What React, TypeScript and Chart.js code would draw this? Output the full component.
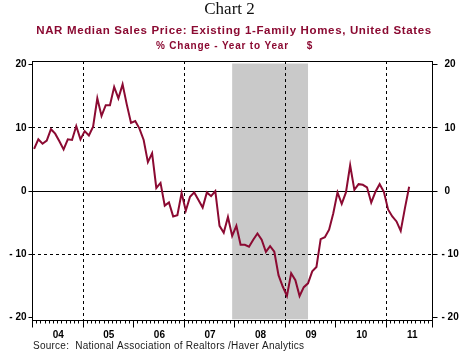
import React, { useEffect, useRef } from "react";
import { Chart, registerables } from "chart.js";

Chart.register(...registerables);

// ---- data ----
const startYear = 2004; // first monthly observation: Jan 2004
const priceChange = [
  6.6, 8.1, 7.4, 7.9, 9.7, 9.0, 7.8, 6.5, 8.1, 8.0, 10.2, 8.1,
  9.4, 8.7, 10.1, 14.6, 11.8, 13.5, 13.5, 16.4, 14.6, 16.8, 13.6, 10.7,
  11.0, 9.8, 8.0, 4.5, 5.9, 0.4, 1.2, -2.4, -1.9, -4.1, -3.9, -0.4,
  -3.2, -1.0, -0.3, -1.5, -2.7, -0.3, -0.9, -0.1, -5.6, -6.7, -4.2, -7.2,
  -5.6, -8.6, -8.6, -8.9, -7.8, -6.8, -7.8, -9.7, -8.8, -9.7, -13.4, -15.2,
  -16.7, -13.1, -14.2, -16.7, -15.3, -14.7, -12.8, -12.1, -7.7, -7.4, -6.2, -3.6,
  -0.3, -2.1, -0.3, 4.0, 0.1, 1.0, 0.9, 0.5, -1.9, -0.2, 1.0, -0.2,
  -3.0, -4.1, -4.9, -6.4, -2.8, 0.6,
];
const yearLabels = ["04", "05", "06", "07", "08", "09", "10", "11"];
const yTickValues = [20, 10, 0, -10, -20];
const yTickLabels = ["20", "10", "0", "- 10", "- 20"];
const dashedYears = [2005, 2007, 2009, 2011];
const recession = [2007 + 11.5 / 12, 2009 + 5.5 / 12]; // Dec 2007 - Jun 2009

const chartLabel = "Chart 2";
const titleText = "NAR Median Sales Price: Existing 1-Family Homes, United States";
const subtitleText = "% Change - Year to Year     $";
const sourceText = "Source:  National Association of Realtors /Haver Analytics";

const X_MIN = 2004;
const X_MAX = 2011.93;
const Y_MIN = -20.5;
const Y_MAX = 20.5;
const LINE_COLOR = "#8B0A32";

const points = priceChange.map((v, i) => ({ x: startYear + (i + 0.5) / 12, y: v }));

const deco = {
  id: "deco",
  beforeDatasetsDraw(chart: any) {
    const { ctx, chartArea: a, scales } = chart;
    const x = scales.x;
    const y = scales.y;
    ctx.save();
    // recession shading
    const x0 = x.getPixelForValue(recession[0]);
    const x1 = x.getPixelForValue(recession[1]);
    const yt = y.getPixelForValue(20.1);
    const yb = y.getPixelForValue(-20.4);
    ctx.fillStyle = "#c9c9c9";
    ctx.fillRect(x0, yt, x1 - x0, yb - yt);

    const seg = (ax: number, ay: number, bx: number, by: number) => {
      ctx.beginPath();
      ctx.moveTo(ax, ay);
      ctx.lineTo(bx, by);
      ctx.stroke();
    };
    ctx.strokeStyle = "#000";
    ctx.lineWidth = 1;
    ctx.setLineDash([3, 3]);
    for (const v of [10, -10]) {
      const py = Math.round(y.getPixelForValue(v)) + 0.5;
      seg(a.left, py, a.right, py);
    }
    for (const yr of dashedYears) {
      const px = Math.round(x.getPixelForValue(yr)) + 0.5;
      seg(px, a.top, px, a.bottom);
    }
    ctx.setLineDash([]);
    const pz = Math.round(y.getPixelForValue(0)) + 0.5;
    seg(a.left, pz, a.right, pz);
    ctx.restore();
  },
  afterDatasetsDraw(chart: any) {
    const { ctx, chartArea: a, scales } = chart;
    const x = scales.x;
    const y = scales.y;
    ctx.save();
    ctx.strokeStyle = "#000";
    ctx.lineWidth = 1;
    const L = Math.round(a.left) + 0.5;
    const R = Math.round(a.right) - 0.5;
    const T = Math.round(a.top) + 0.5;
    const B = Math.round(a.bottom) + 0.5;
    ctx.strokeRect(L, T, R - L, B - T);

    // y ticks (outward, both sides)
    ctx.beginPath();
    yTickValues.forEach((v) => {
      const py = Math.round(y.getPixelForValue(v)) + 0.5;
      ctx.moveTo(L - 4, py);
      ctx.lineTo(L, py);
      ctx.moveTo(R, py);
      ctx.lineTo(R + 5, py);
    });
    // x ticks: monthly minor, yearly major
    for (let m = 0; m <= 96; m++) {
      const v = X_MIN + m / 12;
      if (v > X_MAX + 1e-6) break;
      const px = Math.round(x.getPixelForValue(v)) + 0.5;
      const len = m % 12 === 0 ? 7 : 3;
      ctx.moveTo(px, B);
      ctx.lineTo(px, B + len);
    }
    ctx.moveTo(R, B);
    ctx.lineTo(R, B + 7);
    ctx.stroke();

    // y labels
    ctx.fillStyle = "#000";
    ctx.font = "bold 10px Arial, 'Liberation Sans', sans-serif";
    ctx.textBaseline = "middle";
    yTickValues.forEach((v, i) => {
      const py = y.getPixelForValue(v);
      ctx.textAlign = "right";
      ctx.fillText(yTickLabels[i], L - 6, py + 0.5);
      ctx.textAlign = "left";
      ctx.fillText(yTickLabels[i], R + (v < 0 ? 9 : 12), py + 0.5);
    });
    // x labels
    ctx.textAlign = "center";
    yearLabels.forEach((lab, i) => {
      const px = x.getPixelForValue(X_MIN + i + 0.5);
      ctx.fillText(lab, px + 1, B + 15);
    });

    // texts
    ctx.fillStyle = "#111";
    ctx.font = "17px 'Times New Roman', 'Liberation Serif', serif";
    ctx.textAlign = "center";
    ctx.fillText(chartLabel, 229.5, 10);

    ctx.fillStyle = LINE_COLOR;
    ctx.font = "bold 11.5px Arial, 'Liberation Sans', sans-serif";
    (ctx as any).letterSpacing = "0.65px";
    ctx.fillText(titleText, 234, 30.5);
    ctx.font = "bold 10px Arial, 'Liberation Sans', sans-serif";
    (ctx as any).letterSpacing = "0.8px";
    ctx.fillText(subtitleText, 234.5, 46.5);

    ctx.fillStyle = "#1a1a1a";
    ctx.font = "10px Arial, 'Liberation Sans', sans-serif";
    (ctx as any).letterSpacing = "0.25px";
    ctx.textAlign = "left";
    ctx.fillText(sourceText, 33, 346);
    (ctx as any).letterSpacing = "0px";
    ctx.restore();
  },
};

export default function App() {
  const ref = useRef<HTMLCanvasElement | null>(null);
  useEffect(() => {
    if (!ref.current) return;
    const chart = new Chart(ref.current, {
      type: "line",
      data: {
        datasets: [
          {
            data: points,
            borderColor: LINE_COLOR,
            borderWidth: 2,
            pointRadius: 0,
            tension: 0,
            fill: false,
          },
        ],
      },
      options: {
        responsive: false,
        animation: false,
        devicePixelRatio: 1,
        layout: { padding: { left: 32, top: 61, right: 38, bottom: 36 } },
        parsing: false,
        scales: {
          x: { type: "linear", display: false, min: X_MIN, max: X_MAX },
          y: { type: "linear", display: false, min: Y_MIN, max: Y_MAX },
        },
        plugins: {
          legend: { display: false },
          tooltip: { enabled: false },
          title: { display: false },
        },
      },
      plugins: [deco],
    } as any);
    return () => chart.destroy();
  }, []);
  return (
    <div style={{ position: "fixed", left: 0, top: 0, width: 471, height: 356, background: "#fff" }}>
      <canvas ref={ref} width={471} height={356} />
    </div>
  );
}
